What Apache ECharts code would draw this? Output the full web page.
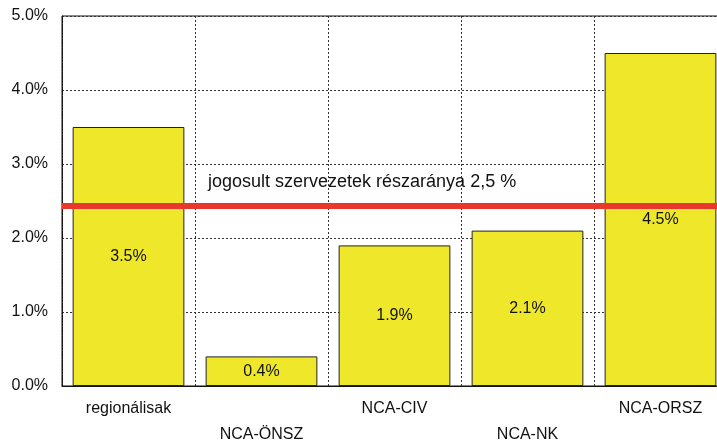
<!DOCTYPE html>
<html><head><meta charset="utf-8">
<script src="https://cdn.jsdelivr.net/npm/echarts@6/dist/echarts.min.js"></script>
<style>html,body{margin:0;padding:0;background:#fff}#c{width:717px;height:441px}</style>
</head><body><div id="c"></div>
<script>
const categories = ['regionálisak', 'NCA-ÖNSZ', 'NCA-CIV', 'NCA-NK', 'NCA-ORSZ'];
const values = [3.5, 0.4, 1.9, 2.1, 4.5];
const thresholdValue = 2.43;
const thresholdText = 'jogosult szervezetek részaránya 2,5 %';
const yTicks = [0, 1, 2, 3, 4, 5];

const chart = echarts.init(document.getElementById('c'));
const font = 'Liberation Sans, Arial, sans-serif';
chart.setOption({
  animation: false,
  grid: {left: 62, right: -10, top: 16, bottom: 55, show: true, borderColor: '#111', borderWidth: 1,
         containLabel: false, outerBoundsMode: 'none'},
  xAxis: {
    type: 'category', data: categories,
    axisLine: {lineStyle: {color: '#111'}},
    axisTick: {show: false},
    splitLine: {show: true, lineStyle: {type: [2, 2], color: '#333', width: 1}},
    axisLabel: {
      interval: 0, color: '#111', fontFamily: font, fontSize: 16, margin: 10, lineHeight: 26,
      formatter: (v, i) => (i % 2 === 1 ? '\n' + v : v)
    }
  },
  yAxis: {
    type: 'value', min: yTicks[0], max: yTicks[yTicks.length - 1], interval: 1,
    axisLine: {show: true, lineStyle: {color: '#111', type: [2, 1]}},
    axisTick: {show: false},
    splitLine: {show: true, lineStyle: {type: [2, 2], color: '#333', width: 1}},
    axisLabel: {color: '#111', fontFamily: font, fontSize: 16, margin: 14, formatter: v => v.toFixed(1) + '%'}
  },
  series: [{
    type: 'bar', data: values, barCategoryGap: '16%',
    itemStyle: {color: '#efe82a', borderColor: '#222', borderWidth: 1},
    label: {show: true, position: 'inside', color: '#111', fontFamily: font, fontSize: 16, formatter: p => p.value.toFixed(1) + '%'},
    markLine: {
      silent: true, symbol: 'none',
      lineStyle: {color: '#e8372b', width: 6, type: 'solid'},
      label: {show: false},
      data: [{yAxis: thresholdValue}]
    }
  }],
  graphic: [{
    type: 'text', left: 208, top: 173,
    style: {text: thresholdText, fill: '#111', font: '18px ' + font}
  }]
});
</script>
</body></html>
